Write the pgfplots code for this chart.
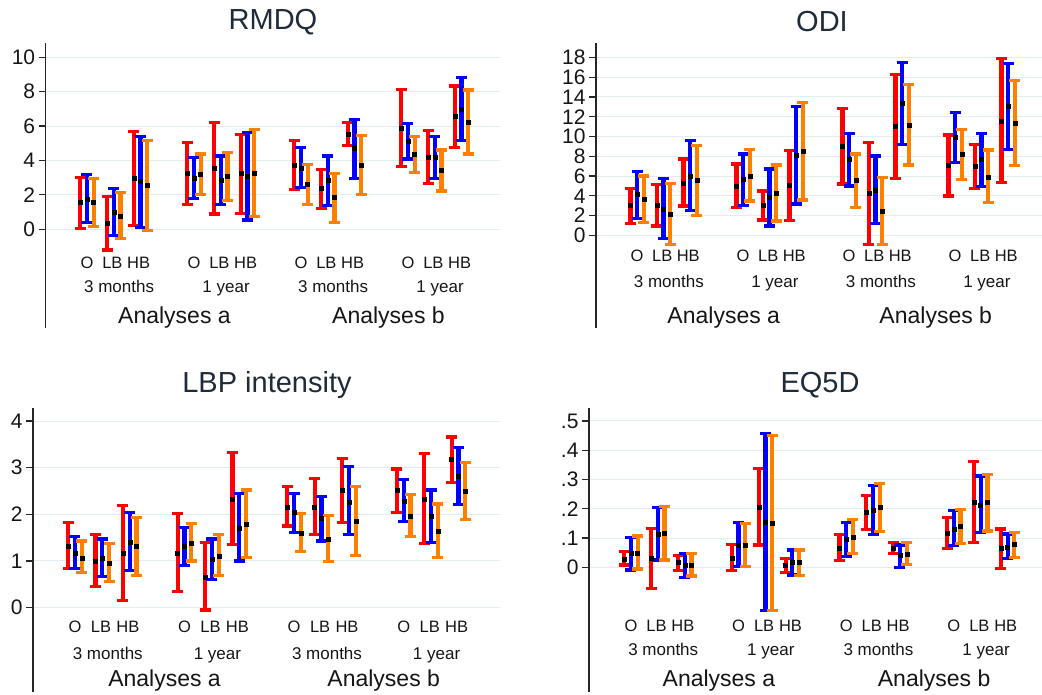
\documentclass[border=0pt]{standalone}
\usepackage{fontspec}
\setmainfont{Liberation Sans}
\usepackage{pgfplots}
\usepackage{pgfplotstable}
\pgfplotsset{compat=1.18}
\definecolor{CIred}{HTML}{FF0000}
\definecolor{CIblue}{HTML}{0000FF}
\definecolor{CIorange}{HTML}{FF8000}
\definecolor{GridC}{HTML}{E3ECEE}
\definecolor{TitleC}{HTML}{1E2B38}
\definecolor{LabC}{HTML}{151515}

% x = subgroup centre; 1 = red, 2 = blue, 3 = orange (lower, estimate, upper)
\pgfplotstableread{
x  l1    m1   h1   l2    m2   h2   l3    m3   h3
0  0.04  1.55 3.02 0.40  1.74 3.18 0.15  1.55 2.93
1  -1.20 0.35 1.90 -0.35 0.97 2.36 -0.54 0.74 2.13
2  0.23  2.97 5.68 0.12  2.77 5.39 -0.08 2.54 5.16
4  1.45  3.26 5.04 1.78  2.97 4.19 2.00  3.20 4.38
5  0.89  3.55 6.20 1.45  2.83 4.26 1.67  3.06 4.46
6  0.93  3.26 5.50 0.54  3.06 5.62 0.74  3.26 5.81
8  2.29  3.70 5.16 2.44  3.55 4.75 1.45  2.64 3.76
9  1.22  2.38 3.49 1.36  2.87 4.26 0.39  1.84 3.26
10 4.88  5.54 6.20 2.97  4.69 6.40 2.00  3.70 5.43
12 3.64  5.89 8.14 4.09  5.10 6.16 3.31  4.34 5.39
13 2.67  4.19 5.72 2.97  4.19 5.39 2.23  3.41 4.61
14 4.75  6.55 8.33 5.14  6.98 8.84 4.38  6.20 8.10
}\rmdq

\pgfplotstableread{
x  l1    m1    h1    l2    m2    h2    l3    m3    h3
0  1.21  3.00  4.75  1.72  4.15  6.44  1.28  3.67  6.00
1  0.94  3.07  5.16  -0.34 2.66  5.73  -0.91 2.16  5.26
2  2.97  5.26  7.72  2.49  6.00  9.57  1.99  5.53  9.07
4  2.83  5.02  7.21  3.00  5.66  8.22  3.47  6.03  8.70
5  1.55  3.00  4.48  0.94  3.81  6.70  1.45  4.31  7.11
6  1.48  5.06  8.60  3.17  8.09  13.00 3.57  8.53  13.41
8  5.19  9.03  12.84 4.99  7.65  10.31 2.83  5.56  8.22
9  -0.91 4.25  9.37  1.21  4.52  8.02  -0.91 2.46  5.83
10 5.76  10.99 16.28 9.20  13.35 17.46 7.11  11.12 15.27
12 3.98  7.11  10.14 7.35  9.88  12.40 5.66  8.19  10.72
13 4.75  7.04  9.20  4.92  7.68  10.31 3.34  5.93  8.63
14 5.33  11.56 17.90 8.70  13.01 17.39 7.04  11.32 15.64
}\odi

\pgfplotstableread{
x  l1    m1   h1   l2   m2   h2   l3   m3   h3
0  0.84  1.32 1.82 0.83 1.16 1.52 0.75 1.06 1.43
1  0.45  1.00 1.56 0.66 1.06 1.47 0.56 0.96 1.38
2  0.15  1.16 2.19 0.79 1.40 2.04 0.68 1.31 1.93
4  0.34  1.16 2.01 0.91 1.31 1.71 1.00 1.38 1.81
5  -0.05 0.66 1.39 0.61 1.04 1.47 0.68 1.11 1.56
6  1.36  2.33 3.32 1.00 1.71 2.44 1.07 1.79 2.52
8  1.75  2.16 2.59 1.61 2.04 2.45 1.20 1.59 2.02
9  1.57  2.16 2.77 1.43 1.91 2.39 0.99 1.46 1.97
10 1.82  2.51 3.19 1.56 2.27 3.02 1.11 1.86 2.59
12 2.04  2.51 2.97 1.84 2.29 2.74 1.52 1.96 2.43
13 1.38  2.33 3.31 1.40 1.96 2.52 1.08 1.64 2.22
14 2.68  3.18 3.66 2.21 2.82 3.43 1.89 2.49 3.11
}\lbp

\pgfplotstableread{
x  l1     m1    h1    l2     m2    h2    l3     m3    h3
0  0.008  0.028 0.054 -0.009 0.049 0.103 -0.006 0.049 0.107
1  -0.072 0.032 0.133 0.025  0.113 0.204 0.025  0.116 0.207
2  -0.011 0.016 0.040 -0.034 0.006 0.048 -0.030 0.006 0.048
4  -0.011 0.032 0.079 0.002  0.077 0.153 0.002  0.074 0.150
5  0.076  0.205 0.338 -0.148 0.154 0.456 -0.148 0.150 0.450
6  -0.017 0.006 0.031 -0.026 0.016 0.059 -0.028 0.016 0.059
8  0.022  0.066 0.113 0.036  0.096 0.154 0.046  0.103 0.164
9  0.130  0.188 0.245 0.113  0.196 0.278 0.122  0.204 0.287
10 0.046  0.066 0.085 0.000  0.042 0.076 0.010  0.046 0.085
12 0.063  0.116 0.170 0.074  0.131 0.194 0.080  0.141 0.198
13 0.085  0.221 0.361 0.118  0.213 0.312 0.124  0.222 0.318
14 -0.003 0.065 0.131 0.031  0.068 0.114 0.034  0.079 0.118
}\eqfd

\pgfplotsset{
  panel/.style={
    scale only axis, anchor=south west, clip=false,
    axis x line=none, axis y line*=left, xtick=\empty,
    ymajorgrids, grid style={GridC, line width=1pt},
    y axis line style={line width=1.4pt, black!85},
    tick align=outside, major tick length=7pt,
    ytick style={line width=1.2pt, black!85},
    yticklabel style={font=\fontsize{21}{21}\selectfont, text=LabC},
  },
  ci/.style={
    only marks, mark=square*, mark size=2pt,
    mark options={draw=black, fill=black},
    error bars/.cd, y dir=both, y explicit,
    error bar style={line width=4.2pt, color=#1},
    error mark options={rotate=90, mark size=5.5pt, line width=3.2pt, color=#1},
  },
}
\tikzset{
  sub/.style={font=\fontsize{16.5}{16.5}\selectfont, text=LabC, inner sep=0pt,
    anchor=base, yshift=-5.9pt},
  tm/.style={font=\fontsize{17}{17}\selectfont, text=LabC, inner sep=0pt,
    anchor=base, yshift=-6.1pt},
  an/.style={font=\fontsize{23}{23}\selectfont, text=LabC, inner sep=0pt,
    anchor=base, yshift=-8.2pt},
}

\newcommand{\cis}[1]{%
  \addplot[ci=CIred] table[x expr=\thisrow{x}-0.25, y=m1,
    y error plus expr=\thisrow{h1}-\thisrow{m1},
    y error minus expr=\thisrow{m1}-\thisrow{l1}] {#1};
  \addplot[ci=CIblue] table[x=x, y=m2,
    y error plus expr=\thisrow{h2}-\thisrow{m2},
    y error minus expr=\thisrow{m2}-\thisrow{l2}] {#1};
  \addplot[ci=CIorange] table[x expr=\thisrow{x}+0.25, y=m3,
    y error plus expr=\thisrow{h3}-\thisrow{m3},
    y error minus expr=\thisrow{m3}-\thisrow{l3}] {#1};
}

\newcommand{\grouplabels}[3]{%
  \node[sub] at (axis cs:0,#1) {O};
  \node[sub] at (axis cs:0.95,#1) {LB};
  \node[sub] at (axis cs:1.93,#1) {HB};
  \node[sub] at (axis cs:4,#1) {O};
  \node[sub] at (axis cs:4.95,#1) {LB};
  \node[sub] at (axis cs:5.93,#1) {HB};
  \node[sub] at (axis cs:8,#1) {O};
  \node[sub] at (axis cs:8.95,#1) {LB};
  \node[sub] at (axis cs:9.93,#1) {HB};
  \node[sub] at (axis cs:12,#1) {O};
  \node[sub] at (axis cs:12.95,#1) {LB};
  \node[sub] at (axis cs:13.93,#1) {HB};
  \node[tm] at (axis cs:1.2,#2) {3 months};
  \node[tm] at (axis cs:5.2,#2) {1 year};
  \node[tm] at (axis cs:9.2,#2) {3 months};
  \node[tm] at (axis cs:13.2,#2) {1 year};
  \node[an] at (axis cs:3.27,#3) {Analyses a};
  \node[an] at (axis cs:11.27,#3) {Analyses b};
}

\begin{document}
\begin{tikzpicture}
\useasboundingbox (0,0) rectangle (1042pt,-694pt);

% RMDQ
\begin{axis}[panel, at={(45.7pt,-328pt)}, width=454.3pt, height=285pt,
  xmin=-1.544, xmax=15.44, ymin=-5.74, ymax=10.83,
  ytick={0,2,4,6,8,10}, yticklabels={0,2,4,6,8,10}]
\cis{\rmdq}
\grouplabels{-1.96}{-3.3}{-4.98}
\end{axis}
\node[font=\fontsize{29}{29}\selectfont, text=TitleC] at (273pt,-22pt) {RMDQ};

% ODI
\begin{axis}[panel, at={(596pt,-328pt)}, width=450.5pt, height=285pt,
  xmin=-1.55, xmax=15.45, ymin=-9.37, ymax=19.45,
  ytick={0,2,4,6,8,10,12,14,16,18}, yticklabels={0,2,4,6,8,10,12,14,16,18}]
\cis{\odi}
\grouplabels{-2.0}{-4.62}{-8.06}
\end{axis}
\node[font=\fontsize{29}{29}\selectfont, text=TitleC] at (822pt,-22pt) {ODI};

% LBP intensity
\begin{axis}[panel, at={(33pt,-692pt)}, width=466.6pt, height=284pt,
  xmin=-1.53, xmax=15.5, ymin=-1.81, ymax=4.28,
  ytick={0,1,2,3,4}, yticklabels={0,1,2,3,4}]
\cis{\lbp}
\grouplabels{-0.41}{-0.99}{-1.51}
\end{axis}
\node[font=\fontsize{29}{29}\selectfont, text=TitleC] at (267pt,-385pt) {LBP intensity};

% EQ5D
\begin{axis}[panel, at={(589pt,-692pt)}, width=457.6pt, height=284pt,
  xmin=-1.56, xmax=15.45, ymin=-0.426, ymax=0.544,
  ytick={0,0.1,0.2,0.3,0.4,0.5}, yticklabels={0,.1,.2,.3,.4,.5}]
\cis{\eqfd}
\grouplabels{-0.2}{-0.28}{-0.378}
\end{axis}
\node[font=\fontsize{29}{29}\selectfont, text=TitleC] at (820pt,-385pt) {EQ5D};
\end{tikzpicture}
\end{document}
